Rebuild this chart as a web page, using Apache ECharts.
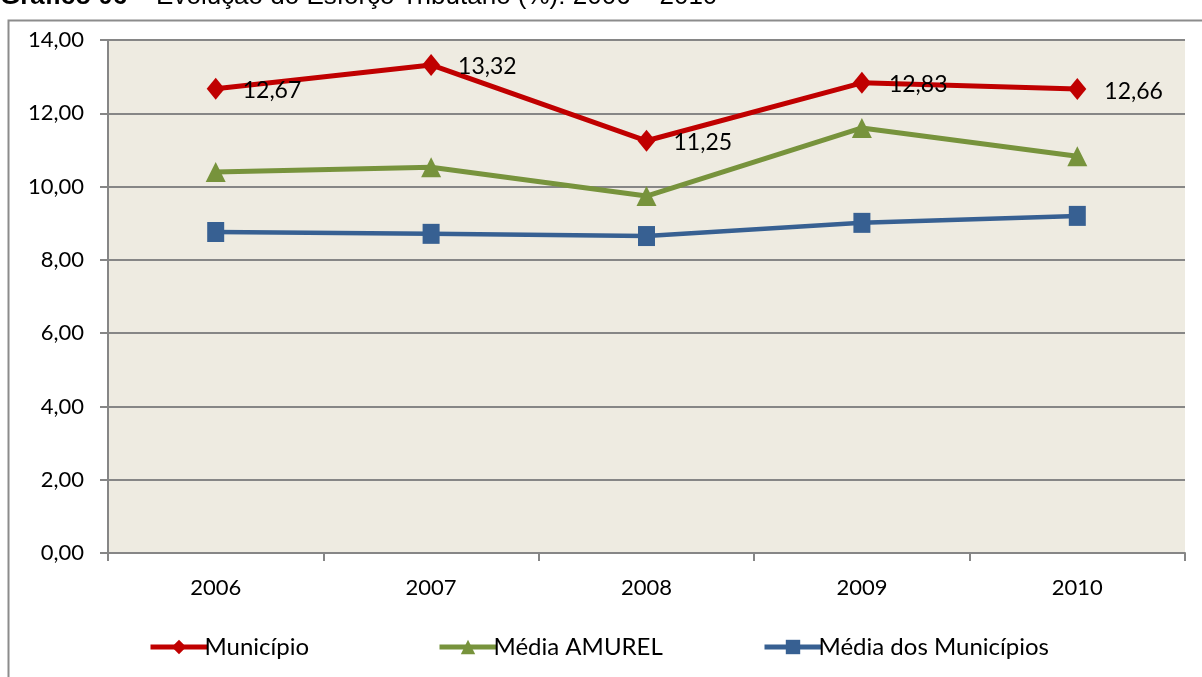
<!DOCTYPE html>
<html>
<head>
    <meta charset="utf-8">
    <script src="https://cdn.jsdelivr.net/npm/echarts@6/dist/echarts.min.js"></script>
    <style>
        html, body { margin: 0; padding: 0; background: #fff; }
    </style>
</head>
<body>
<div id="main" style="width: 1202px;height:677px;"></div>
<script type="text/javascript">
    // dados do gráfico
    var anos = ['2006', '2007', '2008', '2009', '2010'];
    var municipio = [12.67, 13.32, 11.25, 12.83, 12.66];
    var mediaAmurel = [10.40, 10.53, 9.74, 11.60, 10.83];
    var mediaMunicipios = [8.76, 8.71, 8.65, 9.01, 9.20];

    var fonte = 'Lato, "Open Sans", sans-serif';
    var myChart = echarts.init(document.getElementById('main'));

    function fmt(v) {
        return v.toFixed(2).replace('.', ',');
    }

    var legendBase = {
        orient: 'horizontal',
        top: 630,
        itemWidth: 57,
        itemHeight: 18,
        itemGap: 3,
        lineStyle: { width: 5 },
        textStyle: { fontFamily: fonte, fontSize: 24, color: '#000', padding: [0, 0, 0, -8] },
        selectedMode: false
    };

    option = {
        animation: false,
        backgroundColor: '#fff',
        title: {
            text: '{b|Gráfico 06} – Evolução do Esforço Tributário (%): 2006 – 2010',
            left: 0,
            top: -16,
            padding: 0,
            textStyle: {
                fontFamily: '"Liberation Sans", Arial, sans-serif',
                fontSize: 26,
                fontWeight: 'normal',
                color: '#000',
                rich: {
                    b: { fontFamily: '"Liberation Sans", Arial, sans-serif', fontSize: 26, fontWeight: 'bold', color: '#000' }
                }
            }
        },
        graphic: [{
            type: 'rect',
            shape: { x: 8.5, y: 20.5, width: 1210, height: 700 },
            style: { fill: 'none', stroke: '#8c8c8c', lineWidth: 2 },
            silent: true
        }],
        legend: [
            Object.assign({}, legendBase, { left: 143, data: ['Município'] }),
            Object.assign({}, legendBase, { left: 432, data: ['Média AMUREL'] }),
            Object.assign({}, legendBase, { left: 757, data: ['Média dos Municípios'] })
        ],
        grid: {
            left: 108,
            right: 17,
            top: 40,
            bottom: 124,
            show: true,
            backgroundColor: '#EEEBE1',
            borderWidth: 0
        },
        xAxis: {
            type: 'category',
            data: anos,
            boundaryGap: true,
            axisLine: { lineStyle: { color: '#868686', width: 2 } },
            axisTick: { show: true, length: 8, interval: 0, alignWithLabel: false, lineStyle: { color: '#868686', width: 2 } },
            axisLabel: { fontFamily: fonte, fontSize: 22, color: '#000', margin: 24 },
            splitLine: { show: false }
        },
        yAxis: {
            type: 'value',
            min: 0,
            max: 14,
            interval: 2,
            axisLine: { show: true, lineStyle: { color: '#868686', width: 2 } },
            axisTick: { show: true, length: 8, lineStyle: { color: '#868686', width: 2 } },
            axisLabel: { fontFamily: fonte, fontSize: 22, color: '#000', margin: 24, formatter: fmt },
            splitLine: { show: true, lineStyle: { color: '#868686', width: 2 } }
        },
        series: [
            {
                name: 'Município',
                type: 'line',
                data: municipio,
                symbol: 'diamond',
                symbolSize: [18, 22],
                itemStyle: { color: '#C00000' },
                lineStyle: { color: '#C00000', width: 5 },
                label: {
                    show: true,
                    position: 'right',
                    distance: 18,
                    fontFamily: fonte,
                    fontSize: 23,
                    color: '#000',
                    offset: [0, 2],
                    formatter: function (p) { return fmt(p.value); }
                },
                z: 4
            },
            {
                name: 'Média AMUREL',
                type: 'line',
                data: mediaAmurel,
                symbol: 'triangle',
                symbolSize: [20, 20],
                itemStyle: { color: '#77933C' },
                lineStyle: { color: '#77933C', width: 5 },
                z: 3
            },
            {
                name: 'Média dos Municípios',
                type: 'line',
                data: mediaMunicipios,
                symbol: 'rect',
                symbolSize: [17, 20],
                itemStyle: { color: '#376092' },
                lineStyle: { color: '#376092', width: 4.5 },
                z: 2
            }
        ]
    };

    myChart.setOption(option);
</script>
</body>
</html>
